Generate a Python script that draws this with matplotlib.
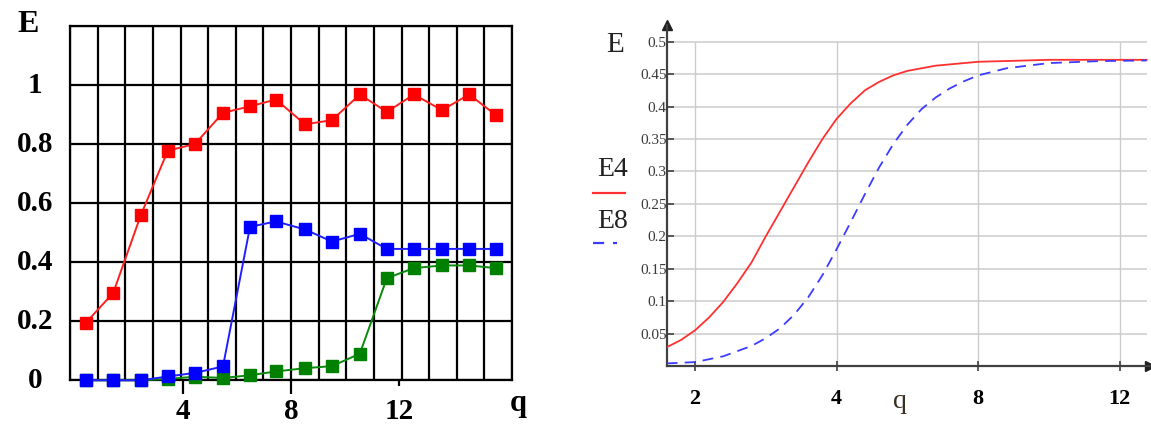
import numpy as np
import matplotlib
matplotlib.use("Agg")
import matplotlib.pyplot as plt
from matplotlib.lines import Line2D
import matplotlib.transforms as mtransforms

plt.rcParams['font.family'] = ['Liberation Serif', 'DejaVu Serif']

# ---------------- data: left panel ----------------
q_left = [0.42, 1.43, 2.45, 3.45, 4.45, 5.49, 6.49, 7.45, 8.52, 9.52,
          10.55, 11.55, 12.55, 13.59, 14.59, 15.59]
red_vals = [0.195, 0.296, 0.559, 0.778, 0.800, 0.906, 0.928, 0.951, 0.867, 0.881,
            0.968, 0.909, 0.968, 0.915, 0.968, 0.898]
blue_vals = [0.0, 0.0, 0.0, 0.013, 0.025, 0.047, 0.520, 0.538, 0.511, 0.470,
             0.496, 0.445, 0.445, 0.445, 0.445, 0.445]
green_vals = [0.0, 0.0, 0.0, 0.005, 0.012, 0.008, 0.017, 0.030, 0.041, 0.048,
              0.090, 0.346, 0.380, 0.389, 0.389, 0.380]
left_yticks = [0, 0.2, 0.4, 0.6, 0.8, 1]
left_ytick_labels = ['0', '0.2', '0.4', '0.6', '0.8', '1']
left_xticks = [4, 8, 12]
left_xtick_labels = ['4', '8', '12']

# ---------------- data: right panel ----------------
# horizontal positions on the drawn axis (ticks are labelled 2, 4, 8, 12)
u_e4 = [1.6, 1.8, 2.0, 2.2, 2.4, 2.6, 2.8, 3.0, 3.2, 3.4, 3.6, 3.8, 4.0, 4.2, 4.4,
        4.6, 4.8, 5.0, 5.4, 6.0, 7.0, 8.38]
e4_vals = [0.029, 0.040, 0.055, 0.075, 0.099, 0.128, 0.160, 0.200, 0.238, 0.276, 0.314,
           0.350, 0.381, 0.405, 0.425, 0.438, 0.448, 0.455, 0.463, 0.469, 0.472, 0.472]
u_e8 = [1.6, 2.0, 2.4, 2.8, 3.0, 3.2, 3.4, 3.6, 3.8, 4.0, 4.2, 4.4, 4.6, 4.8, 5.0, 5.2,
        5.4, 5.6, 5.8, 6.0, 6.4, 7.0, 7.7, 8.38]
e8_vals = [0.004, 0.006, 0.015, 0.031, 0.043, 0.058, 0.079, 0.106, 0.140, 0.180, 0.222,
           0.265, 0.306, 0.342, 0.372, 0.396, 0.414, 0.428, 0.439, 0.448, 0.459, 0.467,
           0.470, 0.471]
right_yticks = [0.05, 0.1, 0.15, 0.2, 0.25, 0.3, 0.35, 0.4, 0.45, 0.5]
right_ytick_labels = ['0.05', '0.1', '0.15', '0.2', '0.25', '0.3', '0.35', '0.4', '0.45', '0.5']
right_xticks = [2, 4, 6, 8]
right_xtick_labels = ['2', '4', '8', '12']

W, H = 1151, 425
fig = plt.figure(figsize=(W / 100, H / 100), dpi=100)


def px_rect(x0, y0, x1, y1):
    return [x0 / W, 1 - y1 / H, (x1 - x0) / W, (y1 - y0) / H]


# ================= LEFT PANEL =================
axL = fig.add_axes(px_rect(70, 26, 512, 380.3))
xl0, xl1 = -0.168, 16.178
axL.set_xlim(xl0, xl1)
axL.set_ylim(0, 1.2)
for xv in np.linspace(xl0, xl1, 17):
    axL.axvline(xv, color='black', lw=1.6, zorder=1)
for yv in np.arange(0, 1.21, 0.2):
    axL.axhline(yv, color='black', lw=1.6, zorder=1)
for s in axL.spines.values():
    s.set_linewidth(1.6)
    s.set_color('black')

axL.plot(q_left, green_vals, color='#0a8a0a', lw=1.4, marker='s', ms=8,
         mfc='#008000', mec='#008000', clip_on=False, zorder=3)
axL.plot(q_left, blue_vals, color='#2020ff', lw=1.4, marker='s', ms=8,
         mfc='#0000ff', mec='#0000ff', clip_on=False, zorder=4)
axL.plot(q_left, red_vals, color='#ff2020', lw=1.4, marker='s', ms=8,
         mfc='#ff0000', mec='#ff0000', clip_on=False, zorder=5)

axL.set_yticks([])
axL.set_xticks(left_xticks[:2])
axL.set_xticklabels(left_xtick_labels[:2])
axL.set_xticks(left_xticks[2:], minor=True)
axL.set_xticklabels(left_xtick_labels[2:], minor=True)
axL.tick_params(axis='x', which='major', direction='out', length=10, width=1.6,
                labelsize=21, pad=3, color='black')
axL.tick_params(axis='x', which='minor', direction='out', length=4, width=1.6,
                labelsize=21, pad=9, color='black')
for lab in axL.get_xticklabels(which='both'):
    lab.set_fontweight('bold')

ytr = mtransforms.blended_transform_factory(axL.transAxes, axL.transData)
for yv, lab in zip(left_yticks, left_ytick_labels):
    axL.text((35 - 70) / 442, yv, lab, transform=ytr, ha='center', va='center',
             fontsize=21, fontweight='bold', clip_on=False)

fig.text(28 / W, 1 - 25 / H, 'E', ha='center', va='center', fontsize=23, fontweight='bold')
fig.text(518 / W, 1 - 404 / H, 'q', ha='center', va='center', fontsize=22, fontweight='bold')

# ================= RIGHT PANEL =================
axR = fig.add_axes(px_rect(666.7, 25, 1150, 366))
ur0, ur1 = 1.60, 8.427
axR.set_xlim(ur0, ur1)
axR.set_ylim(0, 0.5257)
grid_end = 8.39
axR.hlines(right_yticks, ur0, grid_end, color='#d6d6d6', lw=1.4, zorder=1)
axR.vlines(right_xticks, 0, 0.5, color='#cccccc', lw=1.0, zorder=1)

axR.plot(u_e4, e4_vals, color='#ff3030', lw=1.3, zorder=3)
axR.plot(u_e8, e8_vals, color='#3c3cff', lw=1.3, ls=(0, (6, 4)), zorder=3)

for side in ['top', 'right']:
    axR.spines[side].set_visible(False)
for side in ['left', 'bottom']:
    axR.spines[side].set_color('#404040')
    axR.spines[side].set_linewidth(1.6)
axR.plot([0], [1], marker='^', ms=7, color='#202020', transform=axR.transAxes, clip_on=False)
axR.plot([1], [0], marker='>', ms=7, color='#202020', transform=axR.transAxes, clip_on=False)

axR.set_yticks(right_yticks)
axR.set_yticklabels(right_ytick_labels)
axR.tick_params(axis='y', direction='in', length=5, width=1.2, color='#404040',
                labelsize=11, labelcolor='#3a3a3a', pad=0)
axR.set_xticks(right_xticks)
axR.set_xticklabels(right_xtick_labels)
axR.tick_params(axis='x', direction='inout', length=7, width=1.2, color='#404040',
                labelsize=16, labelcolor='black', pad=13)
for lab in axR.get_xticklabels():
    lab.set_fontweight('bold')

fig.text(615 / W, 1 - 45 / H, 'E', ha='center', va='center', fontsize=21, color='#222222')
fig.text(613 / W, 1 - 170 / H, 'E4', ha='center', va='center', fontsize=20, color='#222222')
fig.text(613 / W, 1 - 222 / H, 'E8', ha='center', va='center', fontsize=20, color='#222222')
fig.add_artist(Line2D([593 / W, 625 / W], [1 - 193 / H, 1 - 193 / H], color='#ff3030',
                      lw=1.6, transform=fig.transFigure))
fig.add_artist(Line2D([593 / W, 617 / W], [1 - 243 / H, 1 - 243 / H], color='#3c3cff',
                      lw=1.6, ls=(0, (5, 4)), transform=fig.transFigure))
fig.text(900 / W, 1 - 402 / H, 'q', ha='center', va='center', fontsize=20, color='#3a3020')

fig.savefig('out.png', dpi=100, facecolor='white')
